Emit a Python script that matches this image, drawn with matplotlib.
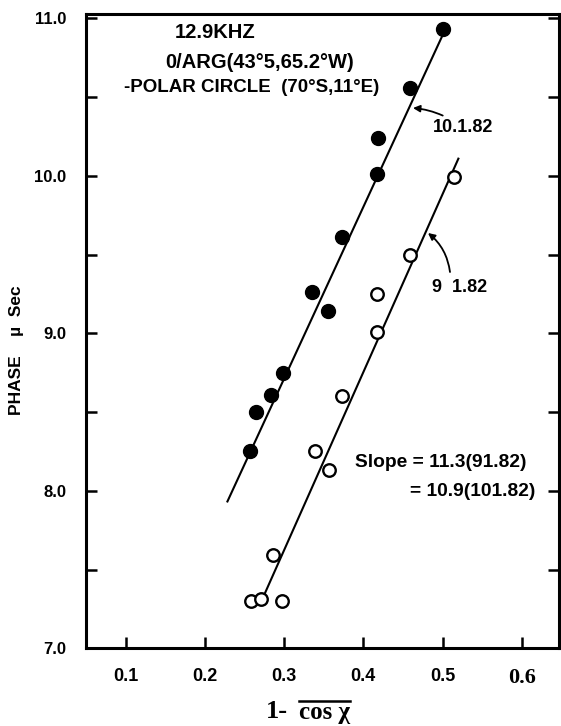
import matplotlib
matplotlib.use('Agg')
import matplotlib.pyplot as plt
import numpy as np

plt.rcParams['font.family'] = ['Liberation Sans', 'DejaVu Sans']
plt.rcParams['font.weight'] = 'bold'

# 10.1.82 (filled) and 9.1.82 (open) phase readings
filled_x = [0.501, 0.459, 0.419, 0.417, 0.373, 0.335, 0.356, 0.299, 0.284, 0.264, 0.257]
filled_y = [10.93, 10.56, 10.24, 10.01, 9.61, 9.26, 9.14, 8.75, 8.61, 8.50, 8.25]
open_x = [0.514, 0.459, 0.417, 0.417, 0.373, 0.339, 0.357, 0.286, 0.258, 0.271, 0.297]
open_y = [9.99, 9.50, 9.25, 9.01, 8.60, 8.25, 8.13, 7.59, 7.30, 7.31, 7.30]

# straight line fits: slope, a point on the line, x extent
fit_slope = {'10.1.82': 10.9, '9.1.82': 11.3}
fit_anchor = {'10.1.82': (0.365, 9.42), '9.1.82': (0.398, 8.73)}
fit_xrange = {'10.1.82': (0.2285, 0.503), '9.1.82': (0.276, 0.520)}

xticks = [0.1, 0.2, 0.3, 0.4, 0.5, 0.6]
yticks_major = [7.0, 8.0, 9.0, 10.0, 11.0]

W, H = 561, 726
def px(x, y):
    # pixel position (from top-left) -> figure fraction
    return (x / W, 1 - y / H)

fig = plt.figure(figsize=(W / 100, H / 100), dpi=100)
ax = fig.add_axes([86 / W, 1 - 648.3 / H, (559 - 86) / W, (648.3 - 14.3) / H])

for key in ['10.1.82', '9.1.82']:
    x0, x1 = fit_xrange[key]
    ax_, ay_ = fit_anchor[key]
    xs = np.array([x0, x1])
    ys = ay_ + fit_slope[key] * (xs - ax_)
    ax.plot(xs, ys, color='black', lw=1.5, zorder=2)

ax.plot(filled_x, filled_y, 'o', color='black', ms=10, zorder=3)
ax.plot(open_x, open_y, 'o', mfc='white', mec='black', mew=1.7, ms=9, zorder=3)

ax.set_xlim(0.050, 0.647)
ax.set_ylim(7.0, 11.025)

for s in ax.spines.values():
    s.set_linewidth(2.2)

ax.set_xticks(xticks)
ax.set_xticklabels(['0.1', '0.2', '0.3', '0.4', '0.5', '0.6'])
ax.set_yticks(np.arange(7.0, 11.01, 0.5))
ax.set_yticklabels(['%.1f' % v if v in yticks_major else '' for v in np.arange(7.0, 11.01, 0.5)])
ax.tick_params(axis='both', direction='in', length=8, width=1.8, labelsize=12, pad=14)
ax.tick_params(axis='x', labelsize=13)
ax.tick_params(axis='y', right=True, left=True)
ax.tick_params(axis='x', top=False)
for lbl in ax.get_xticklabels():
    if lbl.get_text() == '0.6':
        lbl.set_fontfamily('Liberation Serif')
        lbl.set_fontsize(16)

# header text
fig.text(*px(175, 33), '12.9KHZ', fontsize=14.5, va='center', ha='left')
fig.text(*px(165, 62), '0/ARG(43°5,65.2°W)', fontsize=14.5, va='center', ha='left')
fig.text(*px(124, 87), '-POLAR CIRCLE  (70°S,11°E)', fontsize=13.5, va='center', ha='left')

# curve labels with arrows
ax.annotate('10.1.82', xy=px(413, 108), xycoords='figure fraction',
            xytext=px(433, 128), textcoords='figure fraction',
            fontsize=13, va='center', ha='left',
            arrowprops=dict(arrowstyle='-|>', color='black', lw=1.3,
                            mutation_scale=10, shrinkA=2, shrinkB=0,
                            connectionstyle='arc3,rad=0.15'))
ax.annotate('9  1.82', xy=px(428, 233), xycoords='figure fraction',
            xytext=px(432, 287), textcoords='figure fraction',
            fontsize=13, va='center', ha='left')
ax.annotate('', xy=px(428, 233), xycoords='figure fraction',
            xytext=px(450, 272), textcoords='figure fraction',
            arrowprops=dict(arrowstyle='-|>', color='black', lw=1.3,
                            mutation_scale=10, shrinkA=0, shrinkB=0,
                            connectionstyle='arc3,rad=0.2'))

fig.text(*px(355, 463), 'Slope = 11.3(91.82)', fontsize=13.8, va='center', ha='left')
fig.text(*px(535, 491), '= 10.9(101.82)', fontsize=13.8, va='center', ha='right')

# axis titles
fig.text(*px(17, 350), 'PHASE    µ  Sec', fontsize=12.5, rotation=90, va='center', ha='center')
fig.text(*px(266, 712), '1-', fontsize=19, family='Liberation Serif', va='center', ha='left')
cos_txt = fig.text(*px(299, 713), 'cos χ', fontsize=18, family='Liberation Serif',
                   va='center', ha='left')
fig.canvas.draw()
bb = cos_txt.get_window_extent()
bb = bb.transformed(fig.transFigure.inverted())
fig.add_artist(plt.Line2D([bb.x0, bb.x1], [bb.y1 + 0.001, bb.y1 + 0.001],
                          transform=fig.transFigure, color='black', lw=1.8))

fig.savefig('out.png', dpi=100)
